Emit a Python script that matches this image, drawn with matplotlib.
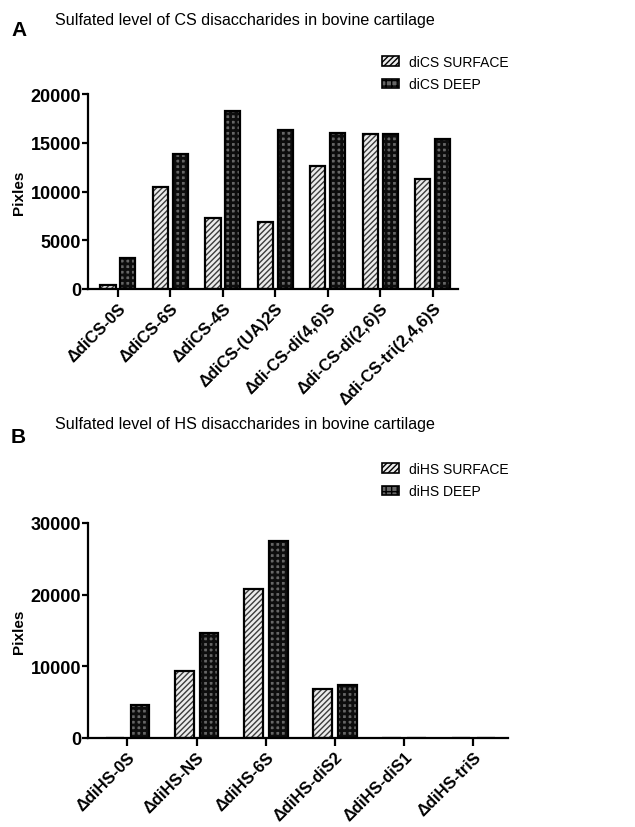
import numpy as np
import matplotlib
matplotlib.use("Agg")
import matplotlib.pyplot as plt
from matplotlib.patches import Patch

# Panel A: CS disaccharides
cs_labels = ["ΔdiCS-0S", "ΔdiCS-6S", "ΔdiCS-4S", "ΔdiCS-(UA)2S",
             "Δdi-CS-di(4,6)S", "Δdi-CS-di(2,6)S", "Δdi-CS-tri(2,4,6)S"]
cs_surface = [450, 10500, 7250, 6900, 12650, 15900, 11300]
cs_deep = [3200, 13800, 18300, 16300, 15950, 15900, 15400]

# Panel B: HS disaccharides
hs_labels = ["ΔdiHS-0S", "ΔdiHS-NS", "ΔdiHS-6S", "ΔdiHS-diS2", "ΔdiHS-diS1", "ΔdiHS-triS"]
hs_surface = [0, 9400, 20800, 6900, 0, 0]
hs_deep = [4650, 14650, 27450, 7350, 0, 0]

plt.rcParams['font.family'] = ['Liberation Sans', 'DejaVu Sans']

W, H = 635, 828
SURF = dict(face="#ececec", hatch="//////", hcol="#3c3c3c", hlw=1.0)
DEEP = dict(face="#666666", hatch="+++", hcol="#0d0d0d", hlw=2.0)


def fig_rect(left, top, right, bottom):
    return [left / W, 1 - bottom / H, (right - left) / W, (bottom - top) / H]


def hatched_bars(ax, x, vals, width, style):
    with plt.rc_context({"hatch.linewidth": style["hlw"]}):
        ax.bar(x, vals, width, color=style["face"], edgecolor=style["hcol"],
               hatch=style["hatch"], linewidth=0, zorder=2)
    ax.bar(x, vals, width, fill=False, edgecolor="black", linewidth=1.6, zorder=3)


def panel(ax, labels, surf, deep, offset, width, ymax, ystep, xright):
    x = np.arange(len(labels))
    hatched_bars(ax, x - offset, surf, width, SURF)
    hatched_bars(ax, x + offset, deep, width, DEEP)
    ax.set_xlim(-0.57, xright)
    ax.set_ylim(0, ymax)
    ax.set_yticks(np.arange(0, ymax + 1, ystep))
    ax.set_xticks(x)
    ax.set_xticklabels(labels, rotation=45, ha="right", va="top",
                       rotation_mode="anchor", fontweight="bold", fontsize=12)
    for t in ax.get_yticklabels():
        t.set_fontweight("bold")
        t.set_fontsize(13)
    ax.spines["top"].set_visible(False)
    ax.spines["right"].set_visible(False)
    ax.spines["left"].set_linewidth(1.6)
    ax.spines["bottom"].set_linewidth(1.6)
    ax.tick_params(axis="y", direction="out", length=4, width=1.6, pad=1)
    ax.tick_params(axis="x", direction="out", length=6, width=1.6, pad=2)
    ax.set_ylabel("Pixles", fontweight="bold", fontsize=11, labelpad=3)


fig = plt.figure(figsize=(6.35, 8.28), dpi=100)

axA = fig.add_axes(fig_rect(88, 95, 458, 290))
panel(axA, cs_labels, cs_surface, cs_deep, 0.19, 0.29, 20000, 5000, 6.48)

axB = fig.add_axes(fig_rect(88, 524, 508, 739))
panel(axB, hs_labels, hs_surface, hs_deep, 0.18, 0.27, 30000, 10000, 5.5)

# titles and panel letters
fig.text(11 / W, 1 - 31 / H, "A", fontsize=15, fontweight="bold", va="center")
fig.text(55 / W, 1 - 20 / H, "Sulfated level of CS disaccharides in bovine cartilage",
         fontsize=11.6, va="center")
fig.text(11 / W, 1 - 438 / H, "B", fontsize=15, fontweight="bold", va="center")
fig.text(55 / W, 1 - 425 / H, "Sulfated level of HS disaccharides in bovine cartilage",
         fontsize=11.6, va="center")


def legend_handles():
    hs = []
    for st in (SURF, DEEP):
        with plt.rc_context({"hatch.linewidth": st["hlw"]}):
            hs.append(Patch(facecolor=st["face"], edgecolor="black",
                            hatch=st["hatch"], linewidth=1.2))
    return hs


for names, ytop in ((["diCS SURFACE", "diCS DEEP"], 56), (["diHS SURFACE", "diHS DEEP"], 463)):
    fig.legend(legend_handles(), names, loc="upper left",
               bbox_to_anchor=(382 / W, 1 - ytop / H), frameon=False,
               fontsize=10, handlelength=1.25, handleheight=0.7,
               handletextpad=0.7, labelspacing=0.6, borderpad=0, borderaxespad=0)

fig.savefig("out.png", dpi=100)
